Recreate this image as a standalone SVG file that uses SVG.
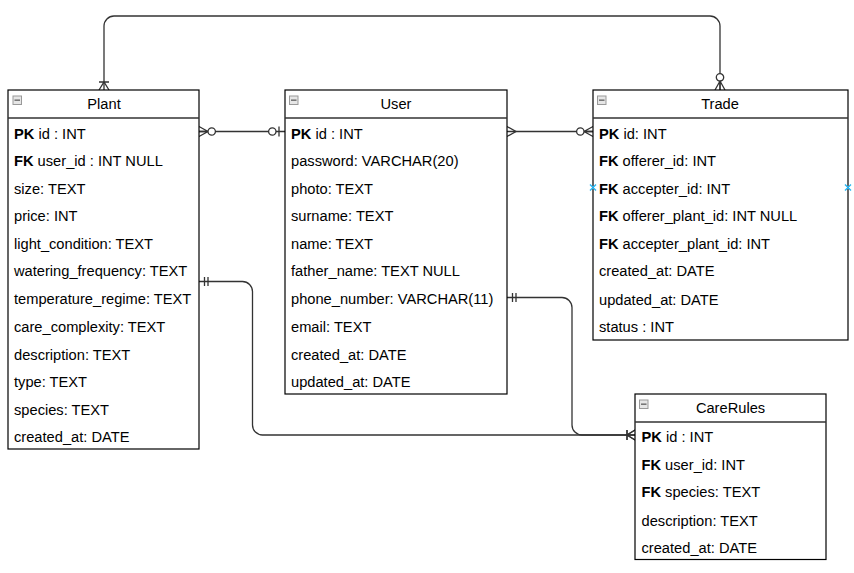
<svg xmlns="http://www.w3.org/2000/svg" width="854" height="573" viewBox="0 0 854 573">
<style>
.box{fill:#fff;stroke:#000;stroke-width:1.2}
.sep{stroke:#333;stroke-width:1.5}
.t{font-family:"Liberation Sans",Arial,sans-serif;font-size:14.67px;fill:#000}
.title{text-anchor:middle}
.k{font-weight:bold}
.edge{fill:none;stroke:#333;stroke-width:1.3}
.mk{fill:none;stroke:#333;stroke-width:1.3}
.mkc{fill:#fff;stroke:#333;stroke-width:1.3}
.ic{fill:#e6e6e6;stroke:#999;stroke-width:1}
.icl{stroke:#777;stroke-width:1.6}
.hov{fill:none;stroke:#29b6f2;stroke-width:1.4}
</style>
<defs>
<marker id="zeroMany" markerUnits="userSpaceOnUse" markerWidth="30" markerHeight="30" refX="0" refY="0" orient="auto-start-reverse" overflow="visible">
<path class="mk" d="M0,-5 L-9,0 L0,5 M0,0 L-9,0"/><circle class="mkc" cx="-12.7" cy="0" r="3.7"/>
</marker>
<marker id="zeroOne" markerUnits="userSpaceOnUse" markerWidth="30" markerHeight="30" refX="0" refY="0" orient="auto-start-reverse" overflow="visible">
<path class="mk" d="M-6,-5 V5"/><circle class="mkc" cx="-12.7" cy="0" r="3.7"/>
</marker>
<marker id="many" markerUnits="userSpaceOnUse" markerWidth="30" markerHeight="30" refX="0" refY="0" orient="auto-start-reverse" overflow="visible">
<path class="mk" d="M0,-5 L-9,0 L0,5"/>
</marker>
<marker id="oneMany" markerUnits="userSpaceOnUse" markerWidth="30" markerHeight="30" refX="0" refY="0" orient="auto-start-reverse" overflow="visible">
<path class="mk" d="M0,-5 L-8,0 L0,5 M-8,-5 V5"/>
</marker>
<marker id="mandOne" markerUnits="userSpaceOnUse" markerWidth="30" markerHeight="30" refX="0" refY="0" orient="auto-start-reverse" overflow="visible">
<path class="mk" d="M-5.5,-4.5 V4.5 M-9,-4.5 V4.5"/>
</marker>
</defs>
<rect width="854" height="573" fill="#fff"/>

<g id="connectors">
<path class="edge" d="M199,131.5 H285" marker-start="url(#zeroMany)" marker-end="url(#zeroOne)"/>
<path class="edge" d="M507,131.5 H593" marker-start="url(#many)" marker-end="url(#zeroMany)"/>
<path class="edge" d="M104,90 V26 A10,10 0 0 1 114,16 H710 A10,10 0 0 1 720,26 V90" marker-start="url(#oneMany)" marker-end="url(#zeroMany)"/>
<path class="edge" d="M199,281.5 H242.5 A10,10 0 0 1 252.5,291.5 V425 A10,10 0 0 0 262.5,435 H635" marker-start="url(#mandOne)" marker-end="url(#oneMany)"/>
<path class="edge" d="M507,297.5 H562 A10,10 0 0 1 572,307.5 V425 A10,10 0 0 0 582,435 H635" marker-start="url(#mandOne)" marker-end="url(#oneMany)"/>
</g>

<g id="plant">
<rect class="box" x="8" y="90" width="191" height="359"/>
<line class="sep" x1="8" y1="118" x2="199" y2="118"/>
<rect class="ic" x="13" y="96" width="8.5" height="8.5"/><line class="icl" x1="14.5" y1="100.2" x2="20" y2="100.2"/>
<text class="t title" x="104" y="109">Plant</text>
<text class="t" x="14" y="138.5"><tspan class="k">PK</tspan> id : INT</text>
<text class="t" x="14" y="165.5"><tspan class="k">FK</tspan> user_id : INT NULL</text>
<text class="t" x="14" y="193.5">size: TEXT</text>
<text class="t" x="14" y="220.5">price: INT</text>
<text class="t" x="14" y="248.5">light_condition: TEXT</text>
<text class="t" x="14" y="275.5">watering_frequency: TEXT</text>
<text class="t" x="14" y="303.5">temperature_regime: TEXT</text>
<text class="t" x="14" y="331.5">care_complexity: TEXT</text>
<text class="t" x="14" y="359.5">description: TEXT</text>
<text class="t" x="14" y="386.5">type: TEXT</text>
<text class="t" x="14" y="414.5">species: TEXT</text>
<text class="t" x="14" y="441.5">created_at: DATE</text>
</g>

<g id="user">
<rect class="box" x="285" y="90" width="222" height="304"/>
<line class="sep" x1="285" y1="118" x2="507" y2="118"/>
<rect class="ic" x="289.5" y="96" width="8.5" height="8.5"/><line class="icl" x1="291" y1="100.2" x2="296.5" y2="100.2"/>
<text class="t title" x="396" y="109">User</text>
<text class="t" x="291" y="139"><tspan class="k">PK</tspan> id : INT</text>
<text class="t" x="291" y="166">password: VARCHAR(20)</text>
<text class="t" x="291" y="194">photo: TEXT</text>
<text class="t" x="291" y="221">surname: TEXT</text>
<text class="t" x="291" y="249">name: TEXT</text>
<text class="t" x="291" y="276">father_name: TEXT NULL</text>
<text class="t" x="291" y="304">phone_number: VARCHAR(11)</text>
<text class="t" x="291" y="332">email: TEXT</text>
<text class="t" x="291" y="360">created_at: DATE</text>
<text class="t" x="291" y="387">updated_at: DATE</text>
</g>

<g id="trade">
<rect class="box" x="593" y="90" width="255" height="250"/>
<line class="sep" x1="593" y1="118" x2="848" y2="118"/>
<rect class="ic" x="597.5" y="96" width="8.5" height="8.5"/><line class="icl" x1="599" y1="100.2" x2="604.5" y2="100.2"/>
<text class="t title" x="720" y="109">Trade</text>
<text class="t" x="599" y="138.5"><tspan class="k">PK</tspan> id: INT</text>
<text class="t" x="599" y="166"><tspan class="k">FK</tspan> offerer_id: INT</text>
<text class="t" x="599" y="193.5"><tspan class="k">FK</tspan> accepter_id: INT</text>
<text class="t" x="599" y="221"><tspan class="k">FK</tspan> offerer_plant_id: INT NULL</text>
<text class="t" x="599" y="249"><tspan class="k">FK</tspan> accepter_plant_id: INT</text>
<text class="t" x="599" y="276">created_at: DATE</text>
<text class="t" x="599" y="305">updated_at: DATE</text>
<text class="t" x="599" y="332">status : INT</text>
<path class="hov" d="M590,184.5 L596,190.5 M596,184.5 L590,190.5 M845,184.5 L851,190.5 M851,184.5 L845,190.5"/>
</g>

<g id="carerules">
<rect class="box" x="635" y="394" width="191" height="165.5"/>
<line class="sep" x1="635" y1="422" x2="826" y2="422"/>
<rect class="ic" x="639.5" y="400" width="8.5" height="8.5"/><line class="icl" x1="641" y1="404.2" x2="646.5" y2="404.2"/>
<text class="t title" x="730.5" y="412.5">CareRules</text>
<text class="t" x="641.5" y="441.5"><tspan class="k">PK</tspan> id : INT</text>
<text class="t" x="641.5" y="469.5"><tspan class="k">FK</tspan> user_id: INT</text>
<text class="t" x="641.5" y="497"><tspan class="k">FK</tspan> species: TEXT</text>
<text class="t" x="641.5" y="525.5">description: TEXT</text>
<text class="t" x="641.5" y="552.5">created_at: DATE</text>
</g>
</svg>
